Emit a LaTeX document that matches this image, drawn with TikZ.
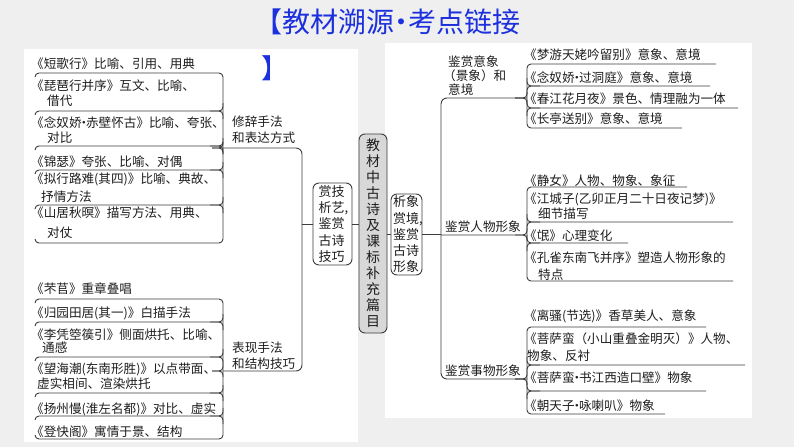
\documentclass[tikz,border=0pt]{standalone}
\usepackage{fontspec}
\setmainfont{Noto Sans CJK SC}
\newcommand\mydot{\kern-0.32em·\kern-0.32em}
\newcommand\titledot{\kern-0.24em·\kern-0.24em}
\definecolor{titleblue}{RGB}{28,48,222}
\definecolor{bggray}{RGB}{239,239,239}
\definecolor{boxgray}{RGB}{216,216,216}
\definecolor{inkc}{RGB}{30,30,30}
\definecolor{linec}{RGB}{60,60,60}
\begin{document}
\begin{tikzpicture}[x=1pt,y=-1pt,
  txt/.style={anchor=base west,inner sep=0pt,font=\fontsize{12.6}{15}\selectfont,text=inkc},
  ln/.style={draw=linec,line width=0.9pt},
  rc/.style={rounded corners=4pt},
  boxst/.style={draw=linec,line width=0.9pt,rounded corners=6pt,align=left,inner sep=0pt,
    font=\fontsize{13}{16.25}\selectfont,text=inkc},
  cboxst/.style={boxst,fill=boxgray,align=center,font=\fontsize{14}{16}\selectfont}]
\useasboundingbox (0,0) rectangle (794,447);
% background and panels
\fill[bggray] (0,0) rectangle (794,447);
\fill[white] (24,49) rectangle (358,442);
\fill[white] (385,43) rectangle (752,418);
% title
\node[anchor=west,inner sep=0pt,font=\fontsize{28}{28}\selectfont,text=titleblue] (title) at (254,22) {【教材溯源\titledot 考点链接};
\node[anchor=west,inner sep=0pt,font=\fontsize{27}{27}\selectfont,text=titleblue] (titleb) at (261,68) {】};
% coordinates
\coordinate (trunkL) at (302,0);
\coordinate (trunkR) at (441,0);
% boxes
\node[boxst,minimum width=39pt,minimum height=82pt,text width=28pt] (sj) at (332.5,224) {赏技\\析艺,\\鉴赏\\古诗\\技巧};
\node[cboxst,minimum width=28pt,minimum height=199pt] (ct) at (373,233.5) {教\\材\\中\\古\\诗\\及\\课\\标\\补\\充\\篇\\目};
\node[boxst,minimum width=31pt,minimum height=81pt,text width=27pt] (xx) at (406.5,234.5) {析象\\赏境,\\鉴赏\\古诗\\形象};
% box connectors
\draw[ln] (sj.east) -- (sj.east -| ct.west);
\draw[ln] (xx.west) -- (xx.west -| ct.east);
\draw[ln] (sj.west) -- (sj.west -| trunkL);
\draw[ln] (xx.east) -- (xx.east -| trunkR);
% left trunk
\draw[ln,rounded corners=6pt] (223,148) -- (302,148) -- (302,371) -- (223,371);
% right trunk
\draw[ln,rounded corners=6pt] (527,98) -- (441,98) -- (441,379) -- (527,379);
\draw[ln,rc] (441,235) -- (527,235) -- (527,241);
\draw[ln,rc] (515,235) -- (527,235) -- (527,229);
\draw[ln,rc] (515,98) -- (527,98) -- (527,92);
\draw[ln,rc] (515,98) -- (527,98) -- (527,104);
\draw[ln,rc] (515,379) -- (527,379) -- (527,373);
\draw[ln,rc] (515,379) -- (527,379) -- (527,385);
\draw[ln,rc] (212,148) -- (223,148) -- (223,142);
\draw[ln,rc] (212,148) -- (223,148) -- (223,154);
\draw[ln,rc] (212,371) -- (223,371) -- (223,365);
\draw[ln,rc] (212,371) -- (223,371) -- (223,377);
% left top group brackets
\draw[ln,rc] (35,77) -- (35,73) -- (223,73) -- (223,243) -- (35,243) -- (35,239);
\foreach \yy in {111,146,170,205} {
  \draw[ln,rc] (35,\yy+4) -- (35,\yy) -- (223,\yy) -- (223,\yy+8);
  \draw[ln,rc] (223,\yy-8) -- (223,\yy) -- (210,\yy);
}
% left bottom group brackets
\draw[ln,rc] (35,303) -- (35,299) -- (223,299) -- (223,439) -- (35,439) -- (35,435);
\foreach \yy in {322,357,393,416} {
  \draw[ln,rc] (35,\yy+4) -- (35,\yy) -- (223,\yy) -- (223,\yy+8);
  \draw[ln,rc] (223,\yy-8) -- (223,\yy) -- (210,\yy);
}
% right group 1
\draw[ln,rc] (716,64) -- (527,64) -- (527,128) -- (682,128);
\foreach \yy/\xe in {86/710,108/738} {
  \draw[ln,rc] (527,\yy-8) -- (527,\yy) -- (\xe,\yy);
  \draw[ln,rc] (527,\yy+8) -- (527,\yy) -- (540,\yy);
}
% right group 2
\draw[ln,rc] (687,187) -- (527,187) -- (527,281) -- (733,281);
\foreach \yy/\xe in {222/733,243/628} {
  \draw[ln,rc] (527,\yy-8) -- (527,\yy) -- (\xe,\yy);
  \draw[ln,rc] (527,\yy+8) -- (527,\yy) -- (540,\yy);
}
% right group 3
\draw[ln,rc] (706,327) -- (527,327) -- (527,414) -- (665,414);
\foreach \yy/\xe in {365/745,391/706} {
  \draw[ln,rc] (527,\yy-8) -- (527,\yy) -- (\xe,\yy);
  \draw[ln,rc] (527,\yy+8) -- (527,\yy) -- (540,\yy);
}
% left labels
\node[txt] (la1) at (232,126) {修辞手法};
\node[txt] (la2) at (232,142) {和表达方式};
\node[txt] (lb1) at (232,352) {表现手法};
\node[txt] (lb2) at (232,368) {和结构技巧};
% left top texts
\node[txt] (a1) at (31,68) {《短歌行》比喻、引用、用典};
\node[txt] (a2) at (31,90) {《琵琶行并序》互文、比喻、};
\node[txt] (a2b) at (47,105) {借代};
\node[txt] (a3) at (31,127) {《念奴娇\mydot 赤壁怀古》比喻、夸张、};
\node[txt] (a3b) at (47,142) {对比};
\node[txt] (a4) at (31,166) {《锦瑟》夸张、比喻、对偶};
\node[txt] (a5) at (31,183) {《拟行路难(其四)》比喻、典故、};
\node[txt] (a5b) at (41,201) {抒情方法};
\node[txt] (a6) at (31,217) {《山居秋暝》描写方法、用典、};
\node[txt] (a6b) at (47,237) {对仗};
% left bottom texts
\node[txt] (b1) at (31,293) {《芣苢》重章叠唱};
\node[txt] (b2) at (31,317) {《归园田居(其一)》白描手法};
\node[txt] (b3) at (31,339) {《李凭箜篌引》侧面烘托、比喻、};
\node[txt] (b3b) at (42,352) {通感};
\node[txt] (b4) at (31,373) {《望海潮(东南形胜)》以点带面、};
\node[txt] (b4b) at (37,388) {虚实相间、渲染烘托};
\node[txt] (b5) at (31,413) {《扬州慢(淮左名都)》对比、虚实};
\node[txt] (b6) at (31,436) {《登快阁》寓情于景、结构};
% right group labels
\node[txt] (g1a) at (448,66) {鉴赏意象};
\node[txt] (g1b) at (443,80) {（景象）和};
\node[txt] (g1c) at (448,94) {意境};
\node[txt] (g2) at (445,231) {鉴赏人物形象};
\node[txt] (g3) at (445,375) {鉴赏事物形象};
% right group 1 texts
\node[txt] (r1) at (524,59) {《梦游天姥吟留别》意象、意境};
\node[txt] (r2) at (524,82) {《念奴娇\mydot 过洞庭》意象、意境};
\node[txt] (r3) at (524,103) {《春江花月夜》景色、情理融为一体};
\node[txt] (r4) at (524,123) {《长亭送别》意象、意境};
% right group 2 texts
\node[txt] (s1) at (524,185) {《静女》人物、物象、象征};
\node[txt] (s2) at (524,203) {《江城子(乙卯正月二十日夜记梦)》};
\node[txt] (s2b) at (538,218) {细节描写};
\node[txt] (s3) at (524,240) {《氓》心理变化};
\node[txt] (s4) at (524,262) {《孔雀东南飞并序》塑造人物形象的};
\node[txt] (s4b) at (538,279) {特点};
% right group 3 texts
\node[txt] (t1) at (524,320) {《离骚(节选)》香草美人、意象};
\node[txt] (t2) at (524,343) {《菩萨蛮（小山重叠金明灭）》人物、};
\node[txt] (t2b) at (527,360) {物象、反衬};
\node[txt] (t3) at (524,382) {《菩萨蛮\mydot 书江西造口壁》物象};
\node[txt] (t4) at (524,410) {《朝天子\mydot 咏喇叭》物象};
\end{tikzpicture}
\end{document}
